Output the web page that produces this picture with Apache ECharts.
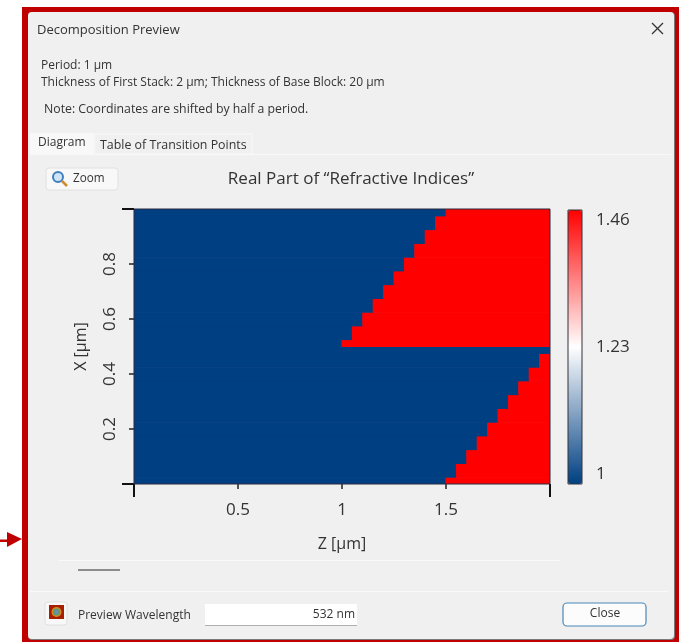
<!DOCTYPE html>
<html>
<head>
<meta charset="utf-8">
<title>Decomposition Preview</title>
<script src="https://cdn.jsdelivr.net/npm/echarts@6/dist/echarts.min.js"></script>
<style>
  html, body { margin: 0; padding: 0; background: #fff; }
  #chart { width: 679px; height: 642px; }
</style>
</head>
<body>
<div id="chart"></div>
<script>
// row edges along X [um], bottom to top (half rows at 0, 0.5 and 1)
const xEdges = [0, 0.025, 0.075, 0.125, 0.175, 0.225, 0.275, 0.325, 0.375, 0.425, 0.475, 0.5,
  0.525, 0.575, 0.625, 0.675, 0.725, 0.775, 0.825, 0.875, 0.925, 0.975, 1]
// Z [um] where each row turns from low index to high index
const transitionZ = [1.5, 1.55, 1.6, 1.65, 1.7, 1.75, 1.8, 1.85, 1.9, 1.95, 2,
  1, 1.05, 1.1, 1.15, 1.2, 1.25, 1.3, 1.35, 1.4, 1.45, 1.5]
const zRange = [0, 2]
const xRange = [0, 1]
const lowIndex = 1
const highIndex = 1.46
const zTicks = [0.5, 1, 1.5]
const xTicks = [0.2, 0.4, 0.6, 0.8]
const barTicks = [1, 1.23, 1.46]
const colorStops = ['#003f82', '#ffffff', '#ff0000']

const textColor = '#333333'
const uiFont = '"Open Sans", "Noto Sans", sans-serif'

// two cells per row: [z0, z1, x0, x1, index]
let cells = []
transitionZ.forEach((z, i) => {
  cells.push([zRange[0], z, xEdges[i], xEdges[i + 1], lowIndex])
  if (z < zRange[1]) {
    cells.push([z, zRange[1], xEdges[i], xEdges[i + 1], highIndex])
  }
})

function renderCell(params, api) {
  const a = api.coord([api.value(0), api.value(3)])
  const b = api.coord([api.value(1), api.value(2)])
  return {
    type: 'rect',
    shape: { x: a[0], y: a[1], width: b[0] - a[0], height: b[1] - a[1] },
    style: { fill: api.visual('color'), stroke: api.visual('color'), lineWidth: 1 }
  }
}

function uiText(x, y, text, size, extra) {
  return {
    type: 'text', x: x, y: y + 1, z: 5,
    style: Object.assign({ text: text, fontSize: size, fontFamily: uiFont, fill: '#333', textVerticalAlign: 'middle' }, extra || {})
  }
}

function box(x, y, width, height, style, r) {
  return { type: 'rect', z: 3, shape: { x: x, y: y, width: width, height: height, r: r || 0 }, style: style }
}

const chrome = [
  // red frame and pointer
  box(22, 7, 657, 635, { fill: '#c00000' }),
  box(28, 12, 647, 628, { fill: '#7a7a7a' }, 4),
  box(28, 12, 646, 627, { fill: '#f0f0f0' }, 4),
  box(0, 539.5, 12, 2.5, { fill: '#c00000' }),
  { type: 'polygon', z: 3, shape: { points: [[7, 532], [22, 539], [7, 547]] }, style: { fill: '#c00000' } },
  // dialog header
  uiText(37, 29, 'Decomposition Preview', 13),
  { type: 'line', z: 5, shape: { x1: 652, y1: 23, x2: 663, y2: 34 }, style: { stroke: '#333', lineWidth: 1.2 } },
  { type: 'line', z: 5, shape: { x1: 663, y1: 23, x2: 652, y2: 34 }, style: { stroke: '#333', lineWidth: 1.2 } },
  uiText(41, 65, 'Period: 1 µm', 12),
  uiText(41, 82, 'Thickness of First Stack: 2 µm; Thickness of Base Block: 20 µm', 12),
  uiText(44, 108, 'Note: Coordinates are shifted by half a period.', 12.3),
  // tabs
  box(30, 154, 641, 1, { fill: '#f8f8f8' }),
  box(30, 133, 64, 22, { fill: '#f8f8f8' }),
  box(95, 134, 157, 20, { fill: '#f0f0f0', stroke: '#f8f8f8' }),
  uiText(38, 142, 'Diagram', 12),
  uiText(100, 144, 'Table of Transition Points', 12.4),
  // zoom button
  box(46, 168, 72, 22, { fill: '#f8f8f8', stroke: '#e0e0e0' }, 3),
  { type: 'circle', z: 5, shape: { cx: 58, cy: 177, r: 5 }, style: { fill: '#cfe4f7', stroke: '#3f7fbf', lineWidth: 2 } },
  { type: 'line', z: 5, shape: { x1: 62, y1: 181, x2: 67, y2: 186 }, style: { stroke: '#d08a2a', lineWidth: 2.5 } },
  uiText(73, 178, 'Zoom', 11.7),
  // bottom bar
  box(59, 560, 501, 1, { fill: '#fafafa' }),
  box(78, 569, 42, 2, { fill: '#8c8c8c' }),
  box(30, 591, 638, 1, { fill: '#fafafa' }),
  box(45, 602, 22, 23, { fill: '#f8f8f8', stroke: '#e0e0e0' }, 3),
  box(49, 605, 15, 14, { fill: '#a81e00' }),
  { type: 'circle', z: 5, shape: { cx: 56.5, cy: 612, r: 5 }, style: { fill: '#d08a20' } },
  { type: 'circle', z: 5, shape: { cx: 56.5, cy: 612, r: 3.5 }, style: { fill: '#5a9a7a' } },
  { type: 'circle', z: 5, shape: { cx: 56.5, cy: 612, r: 1.8 }, style: { fill: '#7a84c0' } },
  uiText(78, 615, 'Preview Wavelength', 12),
  box(205, 604, 152, 22, { fill: '#ffffff' }),
  box(205, 625, 152, 1, { fill: '#b0b0b0' }),
  uiText(355, 614, '532 nm', 12, { textAlign: 'right' }),
  box(563, 603, 83, 23, { fill: '#fcfcfc', stroke: '#4a88b8', lineWidth: 1.2 }, 4),
  uiText(605, 613, 'Close', 12, { textAlign: 'center' }),
  // outline of the colour bar
  { type: 'rect', z: 6, shape: { x: 568, y: 210, width: 14, height: 274 }, style: { fill: 'none', stroke: '#33333a', lineWidth: 1 } },
  // outline of the plot
  { type: 'rect', z: 6, shape: { x: 134, y: 209, width: 416, height: 275 }, style: { fill: 'none', stroke: '#2a2a40', lineWidth: 1 } }
]

const chart = echarts.init(document.getElementById('chart'), null, { renderer: 'canvas' })

chart.setOption({
  animation: false,
  backgroundColor: '#ffffff',
  textStyle: { fontFamily: uiFont },
  title: {
    text: 'Real Part of “Refractive Indices”',
    left: 351, top: 171, textAlign: 'center', padding: 0, z: 6,
    textStyle: { fontSize: 17, fontWeight: 'normal', color: textColor, fontFamily: uiFont }
  },
  graphic: { elements: chrome },
  grid: [
    { left: 134, top: 209, width: 416, height: 275, z: 5 },
    { left: 568, top: 212, width: 14, height: 271, z: 5 }
  ],
  visualMap: {
    type: 'continuous',
    seriesIndex: 0,
    dimension: 4,
    min: lowIndex,
    max: highIndex,
    left: 568,
    top: 210,
    itemWidth: 14,
    itemHeight: 274,
    padding: 0,
    text: ['', ''],
    calculable: false,
    hoverLink: false,
    inRange: { color: colorStops },
    z: 5
  },
  xAxis: [
    {
      type: 'value', gridIndex: 0, min: zRange[0], max: zRange[1], z: 5,
      name: 'Z [µm]', nameLocation: 'middle', nameGap: 52,
      nameTextStyle: { fontSize: 16, color: textColor },
      axisLine: { show: false }, splitLine: { show: false },
      axisTick: { length: 5, lineStyle: { color: '#222', width: 1.5 }, customValues: zTicks },
      axisLabel: { fontSize: 17, color: textColor, margin: 18, customValues: zTicks }
    },
    {
      // long end ticks
      type: 'value', gridIndex: 0, min: zRange[0], max: zRange[1], position: 'bottom', z: 5,
      axisLine: { show: false }, splitLine: { show: false }, axisLabel: { show: false },
      axisTick: { length: 13, lineStyle: { color: '#111', width: 2 }, customValues: zRange }
    },
    { type: 'value', gridIndex: 1, min: 0, max: 1, show: false }
  ],
  yAxis: [
    {
      type: 'value', gridIndex: 0, min: xRange[0], max: xRange[1], z: 5,
      name: 'X [µm]', nameLocation: 'middle', nameGap: 45, nameRotate: 90,
      nameTextStyle: { fontSize: 16, color: textColor },
      axisLine: { show: false }, splitLine: { show: false },
      axisTick: { length: 5, lineStyle: { color: '#222', width: 1.5 }, customValues: xTicks },
      axisLabel: { fontSize: 17, color: textColor, rotate: 90, margin: 15, customValues: xTicks, verticalAlign: 'bottom', align: 'center' }
    },
    {
      type: 'value', gridIndex: 0, min: xRange[0], max: xRange[1], position: 'left', z: 5,
      axisLine: { show: false }, splitLine: { show: false }, axisLabel: { show: false },
      axisTick: { length: 12, lineStyle: { color: '#111', width: 2 }, customValues: xRange }
    },
    {
      // colour bar labels
      type: 'value', gridIndex: 1, min: lowIndex, max: highIndex, position: 'right', z: 7,
      axisLine: { show: false }, splitLine: { show: false }, axisTick: { show: false },
      axisLabel: {
        fontSize: 17, color: textColor, margin: 14, customValues: barTicks,
        verticalAlignMinLabel: 'bottom', verticalAlignMaxLabel: 'top'
      }
    }
  ],
  series: [
    {
      type: 'custom',
      coordinateSystem: 'cartesian2d',
      xAxisIndex: 0,
      yAxisIndex: 0,
      z: 4,
      clip: true,
      renderItem: renderCell,
      encode: { x: [0, 1], y: [2, 3] },
      data: cells
    }
  ]
})
</script>
</body>
</html>
